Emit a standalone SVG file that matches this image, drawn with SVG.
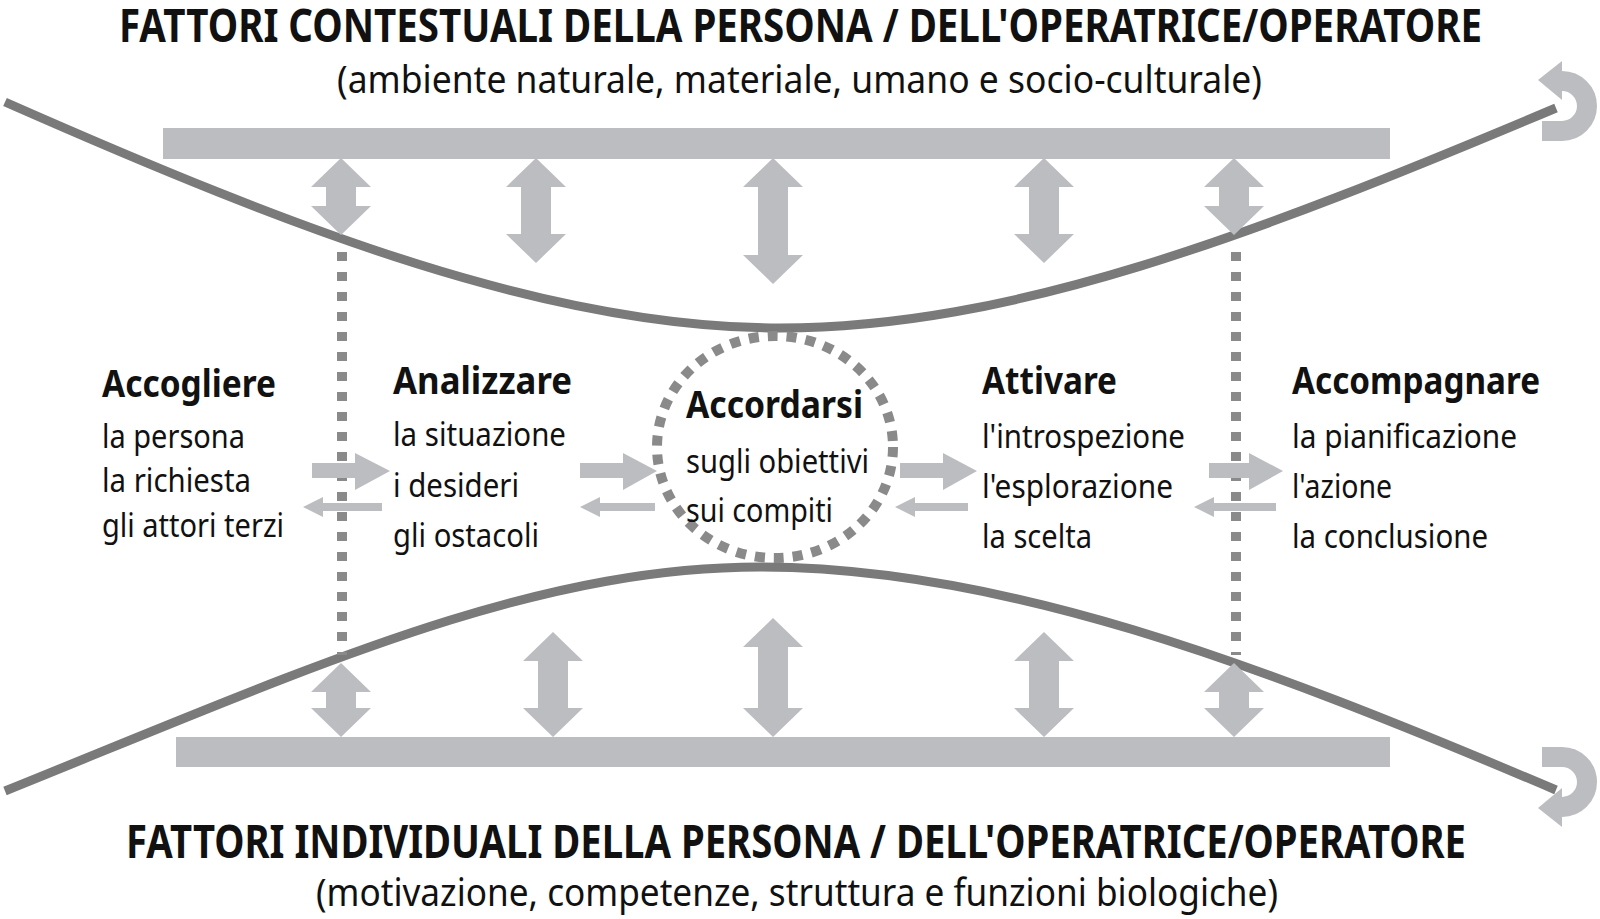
<svg xmlns="http://www.w3.org/2000/svg" width="1600" height="919" viewBox="0 0 1600 919">
<style>
.bar{fill:#bcbdc0}
.dbl{fill:#bcbdc0}
.harr{fill:#bcbdc0}
.curve{fill:none;stroke:#7a7a7a;stroke-width:9}
.dots{fill:none;stroke:#8a8a8a;stroke-width:10;stroke-dasharray:9 11}
.curl{fill:none;stroke:#bcbdc0;stroke-width:20}
.t{font-family:"Noto Sans","Open Sans","DejaVu Sans",sans-serif;fill:#111}
.title{font-size:46px;font-weight:bold}
.sub{font-size:39px}
.head{font-size:37px;font-weight:bold}
.item{font-size:33px}
</style>
<rect width="1600" height="919" fill="#fff"/>

<g id="titles">
<text class="t title" x="119" y="42" textLength="1363" lengthAdjust="spacingAndGlyphs">FATTORI CONTESTUALI DELLA PERSONA / DELL'OPERATRICE/OPERATORE</text>
<text class="t sub" x="337" y="93" textLength="925" lengthAdjust="spacingAndGlyphs">(ambiente naturale, materiale, umano e socio-culturale)</text>
<text class="t title" x="126" y="858" textLength="1340" lengthAdjust="spacingAndGlyphs">FATTORI INDIVIDUALI DELLA PERSONA / DELL'OPERATRICE/OPERATORE</text>
<text class="t sub" x="316" y="906" textLength="962" lengthAdjust="spacingAndGlyphs">(motivazione, competenze, struttura e funzioni biologiche)</text>
</g>

<g id="bars">
<rect id="bar-top" class="bar" x="163" y="128" width="1227" height="31"/>
<rect id="bar-bottom" class="bar" x="176" y="737" width="1214" height="30"/>
</g>

<g id="connectors">
<path class="curve" d="M5,102 C300,232 550,328 780,328 C1010,328 1250,237 1556,108"/>
<path class="curve" d="M5,791 C310,668 530,567 760,567 C1000,567 1250,660 1556,790"/>
<line class="dots" x1="342" y1="252" x2="342" y2="655"/>
<line class="dots" x1="1236" y1="252" x2="1236" y2="655"/>
<path class="dbl" d="M341,158 L371,187 L356,187 L356,206 L371,206 L341,235 L311,206 L326,206 L326,187 L311,187 Z"/>
<path class="dbl" d="M536,158 L566,187 L551,187 L551,234 L566,234 L536,263 L506,234 L521,234 L521,187 L506,187 Z"/>
<path class="dbl" d="M773,158 L803,187 L788,187 L788,255 L803,255 L773,284 L743,255 L758,255 L758,187 L743,187 Z"/>
<path class="dbl" d="M1044,158 L1074,187 L1059,187 L1059,234 L1074,234 L1044,263 L1014,234 L1029,234 L1029,187 L1014,187 Z"/>
<path class="dbl" d="M1234,158 L1264,187 L1249,187 L1249,206 L1264,206 L1234,235 L1204,206 L1219,206 L1219,187 L1204,187 Z"/>
<path class="dbl" d="M341,663 L371,692 L356,692 L356,708 L371,708 L341,737 L311,708 L326,708 L326,692 L311,692 Z"/>
<path class="dbl" d="M553,632 L583,661 L568,661 L568,708 L583,708 L553,737 L523,708 L538,708 L538,661 L523,661 Z"/>
<path class="dbl" d="M773,618 L803,647 L788,647 L788,708 L803,708 L773,737 L743,708 L758,708 L758,647 L743,647 Z"/>
<path class="dbl" d="M1044,632 L1074,661 L1059,661 L1059,708 L1074,708 L1044,737 L1014,708 L1029,708 L1029,661 L1014,661 Z"/>
<path class="dbl" d="M1234,663 L1264,692 L1249,692 L1249,708 L1264,708 L1234,737 L1204,708 L1219,708 L1219,692 L1204,692 Z"/>
<path class="harr" d="M312,463 L355,463 L355,453 L390,471 L355,490 L355,478 L312,478 Z"/>
<path class="harr" d="M382,503 L323,503 L323,497 L303,507 L323,517 L323,511 L382,511 Z"/>
<path class="harr" d="M580,463 L623,463 L623,453 L657,471 L623,490 L623,478 L580,478 Z"/>
<path class="harr" d="M655,503 L600,503 L600,497 L580,507 L600,517 L600,511 L655,511 Z"/>
<path class="harr" d="M900,463 L943,463 L943,453 L977,471 L943,490 L943,478 L900,478 Z"/>
<path class="harr" d="M968,503 L915,503 L915,497 L895,507 L915,517 L915,511 L968,511 Z"/>
<path class="harr" d="M1209,463 L1249,463 L1249,453 L1283,471 L1249,490 L1249,478 L1209,478 Z"/>
<path class="harr" d="M1276,503 L1214,503 L1214,497 L1194,507 L1214,517 L1214,511 L1276,511 Z"/>
<path class="curl" d="M1542,131 L1562,131 A25,25 0 0 0 1562,81"/>
<polygon class="dbl" points="1538,80 1562,61 1562,100"/>
<path class="curl" d="M1542,757 L1562,757 A25,25 0 0 1 1562,807"/>
<polygon class="dbl" points="1538,808 1562,788 1562,827"/>
</g>

<g id="node-accogliere">
<text class="t head" x="102" y="397" textLength="174" lengthAdjust="spacingAndGlyphs">Accogliere</text>
<text class="t item" x="102" y="448" textLength="143" lengthAdjust="spacingAndGlyphs">la persona</text>
<text class="t item" x="102" y="492" textLength="149" lengthAdjust="spacingAndGlyphs">la richiesta</text>
<text class="t item" x="102" y="537" textLength="182" lengthAdjust="spacingAndGlyphs">gli attori terzi</text>
</g>

<g id="node-analizzare">
<text class="t head" x="393" y="394" textLength="179" lengthAdjust="spacingAndGlyphs">Analizzare</text>
<text class="t item" x="393" y="446" textLength="173" lengthAdjust="spacingAndGlyphs">la situazione</text>
<text class="t item" x="393" y="497" textLength="126" lengthAdjust="spacingAndGlyphs">i desideri</text>
<text class="t item" x="393" y="547" textLength="146" lengthAdjust="spacingAndGlyphs">gli ostacoli</text>
</g>

<g id="node-accordarsi">
<ellipse class="dots" cx="775" cy="447" rx="118" ry="111" style="stroke-dasharray:10 9"/>
<text class="t head" x="686" y="418" textLength="177" lengthAdjust="spacingAndGlyphs">Accordarsi</text>
<text class="t item" x="686" y="473" textLength="183" lengthAdjust="spacingAndGlyphs">sugli obiettivi</text>
<text class="t item" x="686" y="522" textLength="147" lengthAdjust="spacingAndGlyphs">sui compiti</text>
</g>

<g id="node-attivare">
<text class="t head" x="982" y="394" textLength="135" lengthAdjust="spacingAndGlyphs">Attivare</text>
<text class="t item" x="982" y="448" textLength="203" lengthAdjust="spacingAndGlyphs">l'introspezione</text>
<text class="t item" x="982" y="498" textLength="191" lengthAdjust="spacingAndGlyphs">l'esplorazione</text>
<text class="t item" x="982" y="548" textLength="110" lengthAdjust="spacingAndGlyphs">la scelta</text>
</g>

<g id="node-accompagnare">
<text class="t head" x="1292" y="394" textLength="248" lengthAdjust="spacingAndGlyphs">Accompagnare</text>
<text class="t item" x="1292" y="448" textLength="225" lengthAdjust="spacingAndGlyphs">la pianificazione</text>
<text class="t item" x="1292" y="498" textLength="100" lengthAdjust="spacingAndGlyphs">l'azione</text>
<text class="t item" x="1292" y="548" textLength="196" lengthAdjust="spacingAndGlyphs">la conclusione</text>
</g>
</svg>
